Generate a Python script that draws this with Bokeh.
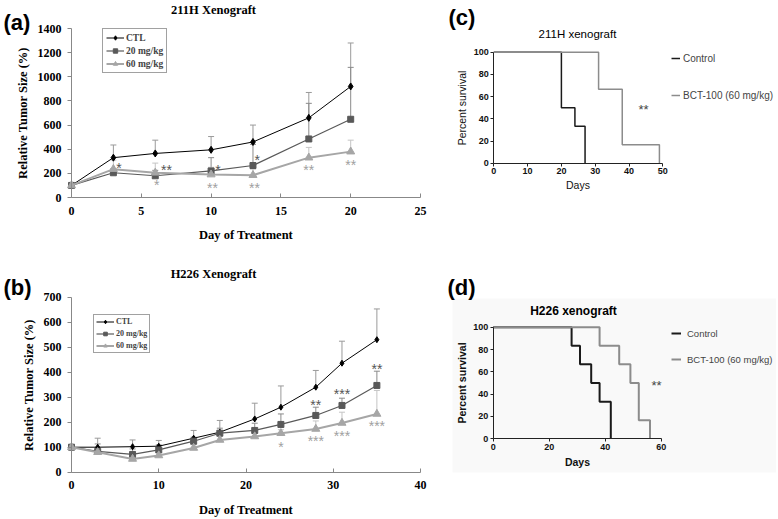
import math
from bokeh.plotting import figure
from bokeh.models import (Range1d, Whisker, TeeHead, ColumnDataSource, Legend, LegendItem,
                          Label, FixedTicker, BoxAnnotation)
from bokeh.layouts import row, column
from bokeh.core.properties import value
from bokeh.embed import file_html
from bokeh.resources import INLINE

# ---------------- data ----------------
# (a) 211H xenograft growth
days_a = [0, 3, 6, 10, 13, 17, 20]
ctl_a = [100, 330, 365, 395, 460, 660, 920]
ctl_a_err = [0, 105, 110, 110, 140, 210, 360]
mg20_a = [100, 205, 180, 220, 265, 485, 648]
mg20_a_err = [0, 35, 45, 110, 175, 295, 430]
mg60_a = [100, 235, 205, 190, 185, 330, 380]
mg60_a_err = [0, 75, 80, 60, 50, 85, 95]
star_a_dark_days = [3.4, 6.8, 10.5, 13.3]
star_a_dark_vals = [277, 263, 258, 341]
star_a_dark_text = ["*", "**", "*", "*"]
star_a_light_days = [6.1, 10.1, 13.1, 17.0, 20.0]
star_a_light_vals = [139, 111, 111, 258, 300]
star_a_light_text = ["*", "**", "**", "**", "**"]

# (b) H226 xenograft growth
days_b = [0, 3, 7, 10, 14, 17, 21, 24, 28, 31, 35]
ctl_b = [100, 100, 102, 104, 136, 160, 213, 260, 340, 436, 530]
ctl_b_err = [0, 36, 27, 23, 31, 47, 63, 85, 67, 88, 123]
mg20_b = [100, 83, 71, 89, 124, 156, 167, 191, 227, 267, 347]
mg20_b_err = [0, 30, 22, 20, 16, 20, 29, 42, 33, 29, 57]
mg60_b = [100, 80, 53, 67, 97, 129, 143, 156, 173, 197, 233]
mg60_b_err = [0, 18, 15, 13, 13, 16, 12, 14, 32, 43, 94]
star_b_dark_days = [28, 31, 35]
star_b_dark_vals = [284, 327, 427]
star_b_dark_text = ["**", "***", "**"]
star_b_light_days = [24, 28, 31, 35]
star_b_light_vals = [117, 140, 160, 200]
star_b_light_text = ["*", "***", "***", "***"]

# (c) 211H survival
ctl_c_days = [0, 20, 24, 27]
ctl_c_surv = [100, 50, 33.3, 0]
bct_c_days = [0, 31, 38, 49]
bct_c_surv = [100, 66.7, 16.7, 0]
star_c = (44.3, 52, "**")

# (d) H226 survival
ctl_d_days = [0, 28, 31, 35, 38, 42]
ctl_d_surv = [100, 83.3, 66.7, 50, 33.3, 0]
bct_d_days = [0, 38, 45, 49, 52, 56]
bct_d_surv = [100, 83.3, 66.7, 50, 16.7, 0]
star_d = (58.3, 51, "**")

series_labels = ["CTL", "20 mg/kg", "60 mg/kg"]
surv_labels = ["Control", "BCT-100 (60 mg/kg)"]

SERIF = "Liberation Serif"
SANS = "Liberation Sans"
C_CTL, C_20, C_60 = "#000000", "#595959", "#a6a6a6"
E_CTL, E_20, E_60 = "#9a9a9a", "#8a8a8a", "#c4c4c4"


def x_range_px(v0, p0, v1, p1, size):
    k = (p1 - p0) / (v1 - v0)
    start = v0 - p0 / k
    return Range1d(start, start + size / k)


def y_range_px(v0, p0, v1, p1, size):
    # p measured from the top of the canvas
    k = (p0 - p1) / (v1 - v0)
    end = v0 + p0 / k
    return Range1d(end - size / k, end)


def base_fig(w, h, xr, yr):
    p = figure(width=w, height=h, x_range=xr, y_range=yr,
               output_backend="svg", toolbar_location=None, title=None,
               min_border=0, min_border_left=0, min_border_right=0,
               min_border_top=0, min_border_bottom=0)
    p.outline_line_color = None
    p.grid.visible = False
    p.background_fill_color = None
    p.border_fill_color = None
    return p


def add_label(p, x, y, text, font, size, bold=True, align="left", color="black"):
    p.add_layout(Label(x=x, y=y, x_units="screen", y_units="screen", text=text,
                       text_font=font, text_font_size=size,
                       text_font_style="bold" if bold else "normal",
                       text_align=align, text_baseline="middle", text_color=color))


def growth_panel(w, h, xr, yr, xb, yb, xticks, yticks, days, series,
                 stars, legend_loc, legend_font, legend_gh, legend_sp, legend_pad):
    p = base_fig(w, h, xr, yr)
    for ax in (p.xaxis[0], p.yaxis[0]):
        ax.axis_line_color = "#888888"
        ax.major_tick_line_color = "#888888"
        ax.minor_tick_line_color = None
        ax.major_label_text_font = SERIF
        ax.major_label_text_font_style = "bold"
        ax.major_label_text_font_size = "12px"
        ax.major_label_text_color = "black"
        ax.axis_label_text_font = SERIF
        ax.axis_label_text_font_style = "bold"
        ax.axis_label_text_font_size = "12.5px"
        ax.axis_label_text_color = "black"
    p.xaxis.fixed_location = 0
    p.yaxis.fixed_location = 0
    p.xaxis.bounds = xb
    p.yaxis.bounds = yb
    p.xaxis.ticker = FixedTicker(ticks=xticks)
    p.yaxis.ticker = FixedTicker(ticks=yticks)
    p.xaxis.major_tick_in = 4
    p.xaxis.major_tick_out = 0
    p.yaxis.major_tick_in = 0
    p.yaxis.major_tick_out = 4
    p.xaxis.major_label_standoff = 9
    p.yaxis.major_label_standoff = 6
    p.xaxis.axis_label = "Day of Treatment"
    p.yaxis.axis_label = "Relative Tumor Size (%)"
    p.xaxis.axis_label_standoff = 10
    p.yaxis.axis_label_standoff = 5

    items = []
    for (vals, errs, col, ecol, marker, msize, lw), lab in zip(series, series_labels):
        xs = [d for d, e in zip(days, errs) if e > 0]
        lo = [v for v, e in zip(vals, errs) if e > 0]
        hi = [v + e for v, e in zip(vals, errs) if e > 0]
        src = ColumnDataSource(dict(x=xs, lo=lo, hi=hi))
        wk = Whisker(source=src, base="x", upper="hi", lower="lo", dimension="height",
                     line_color=ecol, line_width=1,
                     upper_head=TeeHead(size=6, line_color=ecol, line_width=1),
                     lower_head=None, level="underlay")
        p.add_layout(wk)
    for (vals, errs, col, ecol, marker, msize, lw), lab in zip(series, series_labels):
        ln = p.line(days, vals, line_color=col, line_width=lw)
        sc = p.scatter(days, vals, marker=marker, size=msize, fill_color=col, line_color=col)
        items.append(LegendItem(label=lab, renderers=[ln, sc]))
    for sx, sy, st, col in stars:
        p.text(x=sx, y=sy, text=st, text_font=value(SANS), text_font_size="14px",
               text_color=col, text_align="center", text_baseline="middle", y_offset=4)
    leg = Legend(items=items, location=legend_loc, padding=legend_pad, spacing=legend_sp,
                 glyph_height=legend_gh, glyph_width=18, label_standoff=2,
                 label_text_font=SERIF, label_text_font_style="bold",
                 label_text_font_size=legend_font, label_height=legend_gh,
                 border_line_color="#444444", border_line_width=1,
                 background_fill_color="white", margin=0)
    p.add_layout(leg)
    return p


def surv_panel(w, h, xr, yr, xb, xticks, curves, star, legend_loc, spacing,
               glyph_w, standoff, lfont, bold_axes, lw, x_lab_standoff):
    p = base_fig(w, h, xr, yr)
    for ax in (p.xaxis[0], p.yaxis[0]):
        ax.axis_line_color = "#222222"
        ax.major_tick_line_color = "#222222"
        ax.minor_tick_line_color = None
        ax.major_tick_in = 0
        ax.major_tick_out = 3
        ax.major_label_text_font = SANS
        ax.major_label_text_font_style = "bold"
        ax.major_label_text_font_size = "9px"
        ax.major_label_text_color = "#111111"
        ax.axis_label_text_font = SANS
        ax.axis_label_text_font_style = "bold" if bold_axes else "normal"
        ax.axis_label_text_font_size = "10.5px"
        ax.axis_label_text_color = "#111111"
    p.xaxis.fixed_location = 0
    p.yaxis.fixed_location = 0
    p.xaxis.bounds = xb
    p.yaxis.bounds = (0, 100)
    p.xaxis.ticker = FixedTicker(ticks=xticks)
    p.yaxis.ticker = FixedTicker(ticks=[0, 20, 40, 60, 80, 100])
    p.xaxis.major_label_standoff = 2
    p.yaxis.major_label_standoff = 2
    p.xaxis.axis_label = "Days"
    p.yaxis.axis_label = "Percent survival"
    p.xaxis.axis_label_standoff = x_lab_standoff
    p.yaxis.axis_label_standoff = 2
    items = []
    for (dd, ss, col), lab in zip(curves, surv_labels):
        st = p.step(dd, ss, mode="after", line_color=col, line_width=lw)
        tk = p.scatter(x=[], y=[], marker="dash", angle=math.pi / 2, size=6,
                       line_color=col, line_width=1.2)
        items.append(LegendItem(label=lab, renderers=[st, tk]))
    p.text(x=[star[0]], y=[star[1]], text=[star[2]], text_font=value(SANS),
           text_font_size="13px", text_color="#444444", text_align="center",
           text_baseline="middle", y_offset=4)
    leg = Legend(items=items, location=legend_loc, padding=0, spacing=spacing,
                 glyph_height=12, glyph_width=glyph_w, label_standoff=standoff,
                 label_text_font=SANS, label_text_font_size=lfont, label_height=12,
                 border_line_color=None, background_fill_alpha=0, margin=0)
    p.add_layout(leg)
    return p


growth_a = [(ctl_a, ctl_a_err, C_CTL, E_CTL, "diamond", 7, 1),
            (mg20_a, mg20_a_err, C_20, E_20, "square", 6, 1.2),
            (mg60_a, mg60_a_err, C_60, E_60, "triangle", 8, 2)]
growth_b = [(ctl_b, ctl_b_err, C_CTL, E_CTL, "diamond", 6, 1),
            (mg20_b, mg20_b_err, C_20, E_20, "square", 6, 1.2),
            (mg60_b, mg60_b_err, C_60, E_60, "triangle", 8, 2)]

stars_a = [(star_a_dark_days, star_a_dark_vals, star_a_dark_text, "#555555"),
           (star_a_light_days, star_a_light_vals, star_a_light_text, "#a0a0a0")]
stars_b = [(star_b_dark_days, star_b_dark_vals, star_b_dark_text, "#555555"),
           (star_b_light_days, star_b_light_vals, star_b_light_text, "#a0a0a0")]

W_L, W_R = 440, 336
H_T, H_B = 250, 267

# panel (a): day 0 -> x 71 px, day 25 -> x 420 px; 0 % -> y 197 px, 1400 % -> y 28 px
pa = growth_panel(W_L, H_T, x_range_px(0, 71, 25, 420, W_L), y_range_px(0, 197, 1400, 28, H_T),
                  (0, 25), (0, 1400), [0, 5, 10, 15, 20, 25], list(range(0, 1401, 200)),
                  days_a, growth_a, stars_a, (102, 177), "9.5px", 11, 2, 3)
add_label(pa, 3, 228, "(a)", SANS, "22px")
add_label(pa, 213, 241, "211H Xenograft", SERIF, "12.5px", align="center")

# panel (b): day 0 -> 71, day 40 -> 420; 0 -> y 221.7, 700 -> y 46.7 (local)
pb = growth_panel(W_L, H_B, x_range_px(0, 71, 40, 420, W_L), y_range_px(0, 221.7, 700, 46.7, H_B),
                  (0, 40), (0, 700), [0, 10, 20, 30, 40], list(range(0, 701, 100)),
                  days_b, growth_b, stars_b, (93, 164), "8px", 9, 3, 2)
add_label(pb, 3, 230, "(b)", SANS, "22px")
add_label(pb, 213, 244, "H226 Xenograft", SERIF, "12.5px", align="center")

# panel (c)
pc = surv_panel(W_R, H_T, x_range_px(0, 53.3, 50, 222.3, W_R), y_range_px(0, 162.7, 100, 51.7, H_T),
                (0, 50), [0, 10, 20, 30, 40, 50],
                [(ctl_c_days, ctl_c_surv, "#1a1a1a"), (bct_c_days, bct_c_surv, "#8c8c8c")],
                star_c, (231, 149), 25, 9, 3, "10px", False, 1.5, 1)
add_label(pc, 8, 233, "(c)", SANS, "22px")
add_label(pc, 137, 217, "211H xenograft", SANS, "11.5px", bold=False, align="center")

# panel (d)
pd = surv_panel(W_R, H_B, x_range_px(0, 52.7, 60, 220.7, W_R), y_range_px(0, 188.3, 100, 76.7, H_B),
                (0, 60), [0, 20, 40, 60],
                [(ctl_d_days, ctl_d_surv, "#1a1a1a"), (bct_d_days, bct_d_surv, "#8c8c8c")],
                star_d, (231, 152), 14, 10, 6, "9.5px", True, 2, 3)
pd.add_layout(BoxAnnotation(left=12, right=336, top=48, bottom=222,
                            left_units="canvas", right_units="canvas",
                            top_units="canvas", bottom_units="canvas",
                            fill_color="#f9f9f9", fill_alpha=1, line_color=None,
                            level="underlay"))
add_label(pd, 7, 230, "(d)", SANS, "22px")
add_label(pd, 133, 207, "H226 xenograft", SANS, "12px", align="center")

layout = column(row(pa, pc), row(pb, pd))
open("out.html", "w").write(file_html(layout, INLINE))
